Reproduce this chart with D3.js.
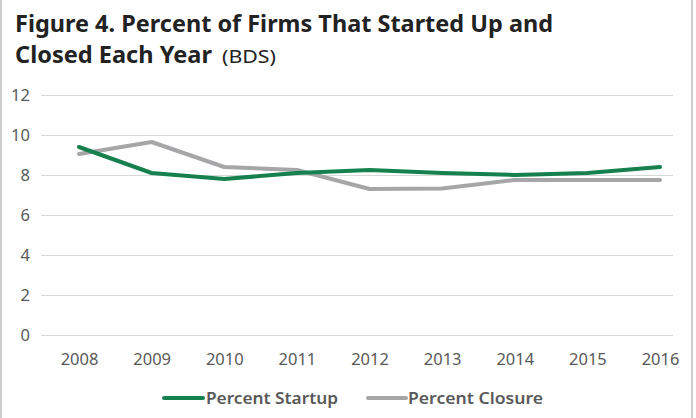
<!DOCTYPE html>
<html><head><meta charset="utf-8">
<script src="https://cdn.jsdelivr.net/npm/d3@7"></script>
<style>body{margin:0;background:#fff}svg{display:block}</style>
</head><body>
<svg id="c" width="696" height="418"></svg>
<script>
const years = ["2008","2009","2010","2011","2012","2013","2014","2015","2016"];
const startup = [9.4, 8.1, 7.8, 8.1, 8.25, 8.1, 8.0, 8.1, 8.4];
const closure = [9.05, 9.65, 8.4, 8.25, 7.3, 7.33, 7.75, 7.75, 7.75];
const yTicks = [0, 2, 4, 6, 8, 10, 12];
const seriesNames = ["Percent Startup", "Percent Closure"];
const colors = ["#17804f", "#a6a6a8"];

const svg = d3.select("#c");
const font = "'Noto Sans', sans-serif";

// border
svg.append("line").attr("x1",1).attr("x2",1).attr("y1",0).attr("y2",418).attr("stroke","#bfbfbf").attr("stroke-width",1.5);
svg.append("line").attr("x1",692).attr("x2",692).attr("y1",0).attr("y2",418).attr("stroke","#bfbfbf").attr("stroke-width",1.5);

// title
svg.append("text").attr("x",15).attr("y",32).attr("font-family",font).attr("font-weight",700)
  .attr("font-size",23).attr("fill","#222").attr("textLength",538).attr("lengthAdjust","spacingAndGlyphs")
  .text("Figure 4. Percent of Firms That Started Up and");
svg.append("text").attr("x",15).attr("y",63).attr("font-family",font).attr("font-weight",700)
  .attr("font-size",23).attr("fill","#222").attr("textLength",197).attr("lengthAdjust","spacingAndGlyphs")
  .text("Closed Each Year");
svg.append("text").attr("x",222).attr("y",63).attr("font-family",font).attr("font-weight",400)
  .attr("font-size",18).attr("fill","#222").attr("textLength",54).attr("lengthAdjust","spacingAndGlyphs")
  .text("(BDS)");

const y = d3.scaleLinear().domain([0,12]).range([335,95]);
const x = d3.scalePoint().domain(years).range([79,660]);

// gridlines
const gridG = svg.append("g").attr("transform","translate(41,0)");
gridG.call(d3.axisLeft(y).tickValues(yTicks).tickSize(-632).tickFormat(d3.format("d")).tickPadding(11))
  .call(g=>g.select(".domain").remove())
  .call(g=>g.selectAll(".tick line").attr("stroke","#d9d9d9").attr("stroke-width",1))
  .call(g=>g.selectAll(".tick text").attr("font-family",font).attr("font-size",16.5).attr("fill","#595959"));

// x axis labels
const xG = svg.append("g").attr("transform","translate(0,335)");
xG.call(d3.axisBottom(x).tickSize(0).tickPadding(18))
  .call(g=>g.select(".domain").remove())
  .call(g=>g.selectAll(".tick text").attr("font-family",font).attr("font-size",16.5).attr("fill","#595959"));

const line = d3.line().x((d,i)=>x(years[i])).y(d=>y(d));
[closure, startup].forEach((s,k)=>{
  const idx = k===0?1:0;
  svg.append("path").datum(s).attr("d",line).attr("fill","none")
    .attr("stroke",colors[idx]).attr("stroke-width",4).attr("stroke-linejoin","round").attr("stroke-linecap","round");
});

// legend
const legend = [{x1:164,x2:203,tx:206,tw:132},{x1:368,x2:406,tx:408,tw:135}];
legend.forEach((l,i)=>{
  svg.append("line").attr("x1",l.x1).attr("x2",l.x2).attr("y1",398).attr("y2",398)
    .attr("stroke",colors[i]).attr("stroke-width",4).attr("stroke-linecap","round");
  svg.append("text").attr("x",l.tx).attr("y",404).attr("font-family",font).attr("font-weight",600)
    .attr("font-size",16.5).attr("fill","#595959").attr("textLength",l.tw).attr("lengthAdjust","spacingAndGlyphs")
    .text(seriesNames[i]);
});
</script>
</body></html>
